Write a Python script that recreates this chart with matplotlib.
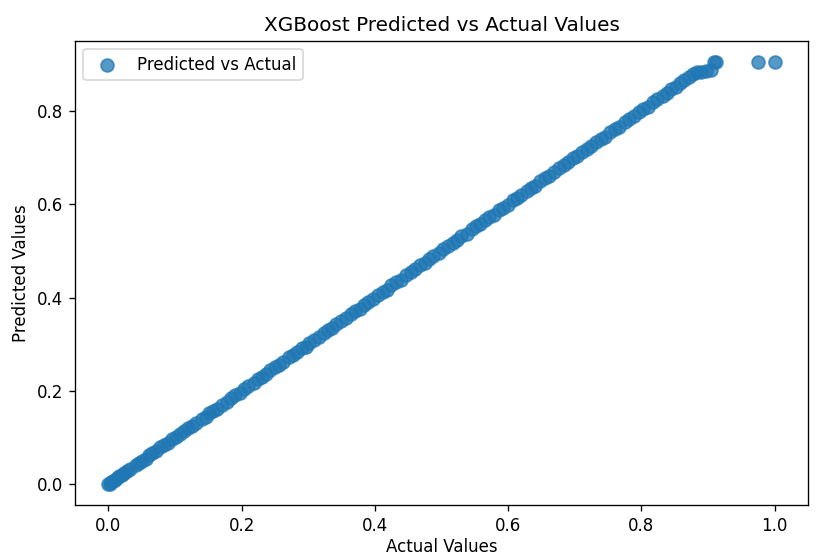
import matplotlib.pyplot as plt

# actual vs predicted values
actual = [0.000, 0.002, 0.004, 0.007, 0.010, 0.013, 0.016, 0.020, 0.024, 0.028,
          0.033, 0.041, 0.046, 0.050, 0.056, 0.061, 0.066, 0.072, 0.078, 0.083,
          0.090, 0.096, 0.101, 0.108, 0.113, 0.120, 0.126, 0.131, 0.140, 0.146,
          0.151, 0.157, 0.163, 0.170, 0.178, 0.184, 0.190, 0.197, 0.203, 0.210,
          0.218, 0.225, 0.230, 0.237, 0.243, 0.250, 0.256, 0.262, 0.271, 0.277,
          0.283, 0.290, 0.296, 0.301, 0.309, 0.316, 0.323, 0.329, 0.336, 0.342,
          0.349, 0.357, 0.364, 0.370, 0.377, 0.384, 0.390, 0.397, 0.405, 0.412,
          0.418, 0.425, 0.432, 0.439, 0.447, 0.455, 0.461, 0.468, 0.475, 0.481,
          0.488, 0.496, 0.503, 0.510, 0.517, 0.523, 0.530, 0.538, 0.546, 0.552,
          0.558, 0.565, 0.572, 0.579, 0.586, 0.592, 0.600, 0.607, 0.613, 0.620,
          0.628, 0.634, 0.641, 0.648, 0.655, 0.662, 0.669, 0.676, 0.684, 0.690,
          0.697, 0.704, 0.711, 0.718, 0.725, 0.732, 0.739, 0.746, 0.753, 0.760,
          0.767, 0.775, 0.782, 0.789, 0.796, 0.803, 0.810, 0.817, 0.824, 0.832,
          0.838, 0.845, 0.852, 0.858, 0.864, 0.871, 0.877, 0.884, 0.890, 0.897,
          0.904, 0.909, 0.912, 0.975, 1.000]
predicted = [0.001, 0.001, 0.005, 0.008, 0.009, 0.014, 0.017, 0.019, 0.025, 0.029,
             0.032, 0.042, 0.046, 0.051, 0.055, 0.062, 0.067, 0.071, 0.079, 0.084,
             0.089, 0.097, 0.102, 0.107, 0.114, 0.121, 0.125, 0.132, 0.141, 0.145,
             0.152, 0.158, 0.162, 0.171, 0.177, 0.185, 0.191, 0.196, 0.204, 0.211,
             0.217, 0.226, 0.231, 0.236, 0.244, 0.251, 0.255, 0.263, 0.272, 0.276,
             0.284, 0.291, 0.295, 0.302, 0.310, 0.315, 0.324, 0.330, 0.335, 0.343,
             0.350, 0.356, 0.365, 0.371, 0.376, 0.385, 0.391, 0.396, 0.406, 0.413,
             0.417, 0.426, 0.433, 0.438, 0.448, 0.454, 0.462, 0.469, 0.474, 0.482,
             0.489, 0.495, 0.504, 0.511, 0.516, 0.524, 0.531, 0.537, 0.547, 0.553,
             0.557, 0.566, 0.573, 0.578, 0.587, 0.593, 0.599, 0.608, 0.614, 0.619,
             0.629, 0.635, 0.640, 0.649, 0.656, 0.661, 0.670, 0.677, 0.683, 0.691,
             0.698, 0.703, 0.712, 0.719, 0.724, 0.733, 0.740, 0.745, 0.754, 0.761,
             0.766, 0.776, 0.783, 0.788, 0.797, 0.804, 0.809, 0.818, 0.825, 0.831,
             0.839, 0.846, 0.851, 0.860, 0.866, 0.872, 0.878, 0.883, 0.884, 0.886,
             0.887, 0.905, 0.905, 0.905, 0.905]

fig = plt.figure(figsize=(6.8, 4.65), dpi=120)
ax = fig.add_subplot(111)
fig.subplots_adjust(left=0.092, right=0.99, top=0.927, bottom=0.095)

ax.scatter(actual, predicted, s=60, alpha=0.75, label="Predicted vs Actual")
ax.set_title("XGBoost Predicted vs Actual Values")
ax.set_xlabel("Actual Values", labelpad=2)
ax.set_ylabel("Predicted Values")
ax.legend(loc="upper left")

fig.savefig("out.png", dpi=120)
